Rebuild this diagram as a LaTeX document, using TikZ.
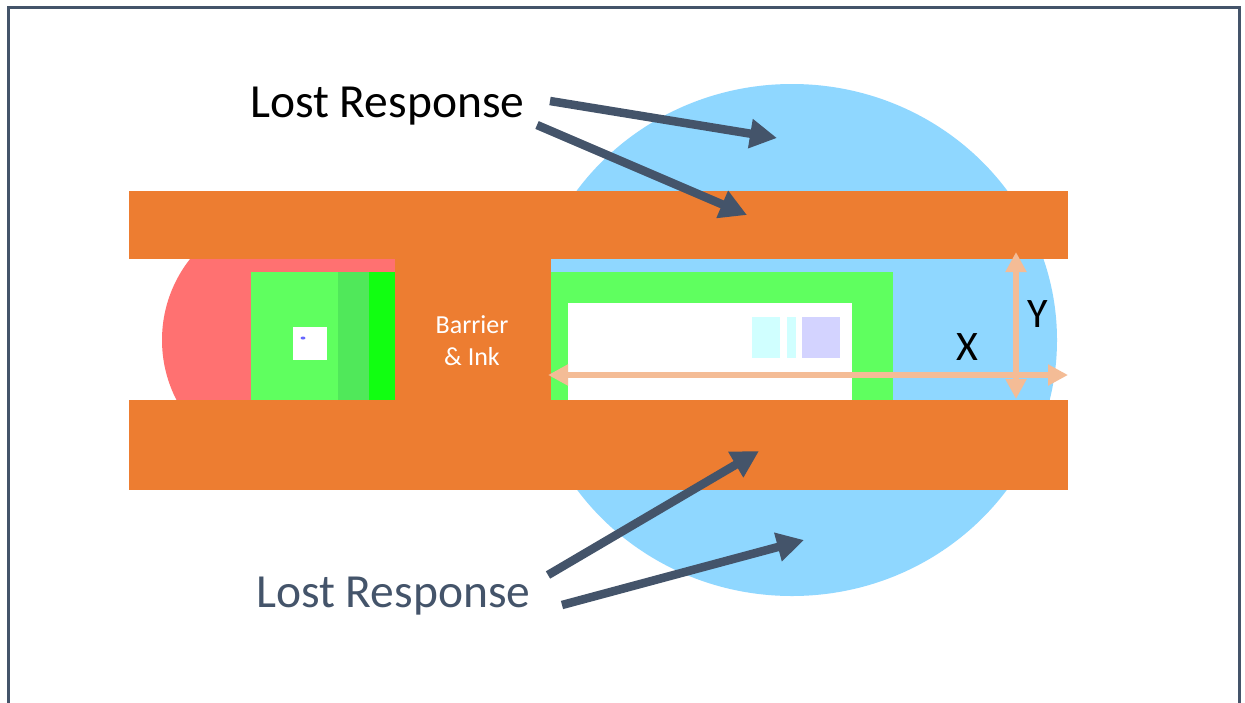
\documentclass[tikz,border=0pt]{standalone}
\usepackage{fontspec}
\setmainfont{Carlito}
\usetikzlibrary{arrows.meta}
\definecolor{frameC}{HTML}{44546A}
\definecolor{orangeC}{HTML}{ED7D31}
\definecolor{blueC}{HTML}{8FD7FF}
\definecolor{redC}{HTML}{FF7171}
\definecolor{greenC}{HTML}{5FFF5F}
\definecolor{greenD}{HTML}{50E85A}
\definecolor{greenB}{HTML}{11FF11}
\definecolor{peachC}{HTML}{F4BC96}
\definecolor{cyanC}{HTML}{D0FFFF}
\definecolor{lavC}{HTML}{D3D3FF}
\tikzset{
  lostarrow/.style={draw=frameC, line width=8.5pt, -{Triangle[length=27pt,width=28pt]}},
  dimarrow/.style={draw=peachC, line width=6.5pt, {Triangle[length=20pt,width=20pt]}-{Triangle[length=20pt,width=20pt]}},
  lostlabel/.style={inner sep=0pt, font=\fontsize{47.5}{56}\selectfont},
  axislabel/.style={inner sep=0pt, font=\fontsize{42}{50}\selectfont, text=black}
}
\begin{document}
\begin{tikzpicture}[x=1pt,y=-1pt]
\useasboundingbox (0,0) rectangle (1245,702);
\fill[white] (0,0) rectangle (1245,702);
% frame
\draw[frameC, line width=3.2pt] (8.5,703) -- (8.5,7.5) -- (1239.5,7.5) -- (1239.5,703);
% blue response area
\fill[blueC] (792,340) ellipse (265 and 256);
\fill[blueC] (551,258) rectangle (900,400);
% red circle clipped
\begin{scope}
  \clip (0,258) rectangle (395,400);
  \fill[redC] (293,340) circle (131);
\end{scope}
% orange barrier
\fill[orangeC] (129,191) rectangle (1068,259);
\fill[orangeC] (129,400) rectangle (1068,490);
\fill[orangeC] (395,258) rectangle (551,401);
% left green
\fill[greenC] (251,272) rectangle (395,400);
\fill[greenD] (338,272) rectangle (369,400);
\fill[greenB] (369,272) rectangle (395,400);
\fill[white] (293,327) rectangle (327,360);
\fill[blue!60!white] (303,338) ellipse (2.5 and 1.5);
% right green
\fill[greenC] (551,272) rectangle (893,400);
\fill[white] (568,303) rectangle (852,400);
\fill[cyanC] (752,317) rectangle (780,358);
\fill[cyanC] (787,317) rectangle (796,358);
\fill[lavC] (802,317) rectangle (840,358);
% barrier text
\node[text=white, align=center, font=\fontsize{26}{32}\selectfont, inner sep=0pt] (barrier) at (472,341) {Barrier\\\& Ink};
% dimension arrows
\coordinate (xl) at (548,375);
\coordinate (xr) at (1068,375);
\coordinate (yt) at (1016,252);
\coordinate (yb) at (1016,399);
\draw[dimarrow] (xl) -- (xr);
\draw[dimarrow] (yt) -- (yb);
\node[axislabel] (xlab) at (967,347) {X};
\node[axislabel] (ylab) at (1038,314) {Y};
% lost response labels
\node[lostlabel, anchor=base west, text=black] (lost1) at (250,117) {Lost Response};
\node[lostlabel, anchor=base west, text=frameC] (lost2) at (256,607) {Lost Response};
% arrows
\coordinate (a1s) at (550,101);
\coordinate (a1e) at (777,138);
\coordinate (a2s) at (537,125);
\coordinate (a2e) at (747,215);
\coordinate (b1s) at (548,575);
\coordinate (b1e) at (759,451);
\coordinate (b2s) at (562,605);
\coordinate (b2e) at (804,540);
\draw[lostarrow] (a1s) -- (a1e);
\draw[lostarrow] (a2s) -- (a2e);
\draw[lostarrow] (b1s) -- (b1e);
\draw[lostarrow] (b2s) -- (b2e);
\end{tikzpicture}
\end{document}
